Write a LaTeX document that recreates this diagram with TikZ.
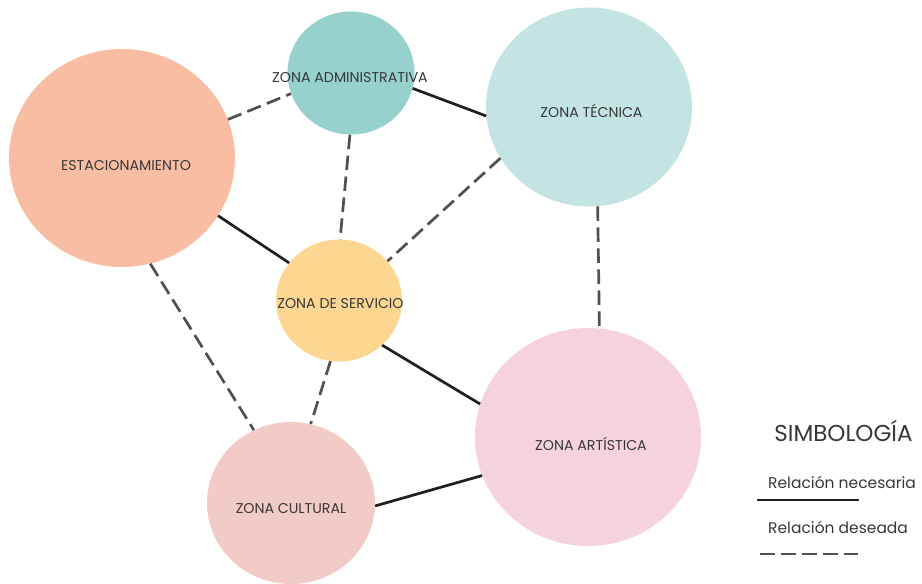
\documentclass[tikz,border=0pt]{standalone}
\usepackage{fontspec}
\setmainfont{Poppins}
\usetikzlibrary{shapes.geometric}
\definecolor{cEst}{HTML}{F9BDA3}
\definecolor{cAdm}{HTML}{97D1CE}
\definecolor{cTec}{HTML}{C4E4E3}
\definecolor{cSer}{HTML}{FDD791}
\definecolor{cArt}{HTML}{F6D2E0}
\definecolor{cCul}{HTML}{F2CAC6}
\definecolor{txt}{HTML}{383838}
\definecolor{solidc}{HTML}{1F1F1F}
\definecolor{dashc}{HTML}{505050}
\begin{document}
\begin{tikzpicture}[x=1pt,y=-1pt,
  zone/.style={ellipse, inner sep=0pt, draw=none},
  lab/.style={text=txt, font=\fontsize{14.2}{16}\selectfont, inner sep=0pt, anchor=base},
  leg/.style={text=txt, font=\fontsize{15.5}{18}\selectfont, inner sep=0pt, anchor=base west},
  need/.style={draw=solidc, line width=2.7pt},
  want/.style={draw=dashc, line width=2.7pt, dash pattern=on 14.5pt off 6.5pt}]
\useasboundingbox (0,0) rectangle (922,584);
\fill[white] (0,0) rectangle (922,584);
% zones
\node[zone, fill=cEst, minimum width=226pt, minimum height=218pt] (est) at (122,158) {};
\node[zone, fill=cAdm, minimum width=127pt, minimum height=123pt] (adm) at (351,73) {};
\node[zone, fill=cTec, minimum width=206pt, minimum height=199pt] (tec) at (589,107) {};
\node[zone, fill=cSer, minimum width=126pt, minimum height=122pt] (ser) at (339,300.5) {};
\node[zone, fill=cArt, minimum width=226pt, minimum height=218pt] (art) at (588,437) {};
\node[zone, fill=cCul, minimum width=168pt, minimum height=162pt] (cul) at (291,503) {};
% labels
\node[lab] (estl) at (126,170.7) {ESTACIONAMIENTO};
\node[lab] (adml) at (350,82.3) {ZONA ADMINISTRATIVA};
\node[lab] (tecl) at (591.5,117.3) {ZONA TÉCNICA};
\node[lab] (serl) at (340.5,308) {ZONA DE SERVICIO};
\node[lab] (artl) at (591,450.7) {ZONA ARTÍSTICA};
\node[lab] (cull) at (291,513.3) {ZONA CULTURAL};
% connectors
\draw[want] (est.20) -- (adm.199);
\draw[need] (adm.-14.5) -- (tec.185);
\draw[want] (adm.-91) -- (ser.89);
\draw[want] (tec.210.9) -- (ser.39.6);
\draw[need] (est.-31.1) -- (ser.143.7);
\draw[want] (est.-75.8) -- (cul.117.8);
\draw[want] (tec.-85.4) -- (art.84.8);
\draw[want] (ser.-98.3) -- (cul.76);
\draw[need] (ser.-46) -- (art.163.5);
\draw[need] (cul.-2.7) -- (art.200.9);
% legend
\node[text=txt, font=\fontsize{23}{26}\selectfont, inner sep=0pt, anchor=base] (simb) at (843.5,441.7) {SIMBOLOGÍA};
\node[leg] (lnec) at (768,488) {Relación necesaria};
\node[leg] (ldes) at (768,533) {Relación deseada};
\coordinate (n1) at (757,500);
\coordinate (n2) at (859,500);
\coordinate (d1) at (760,554);
\coordinate (d2) at (858,554);
\draw[need] (n1) -- (n2);
\draw[want] (d1) -- (d2);
\end{tikzpicture}
\end{document}
